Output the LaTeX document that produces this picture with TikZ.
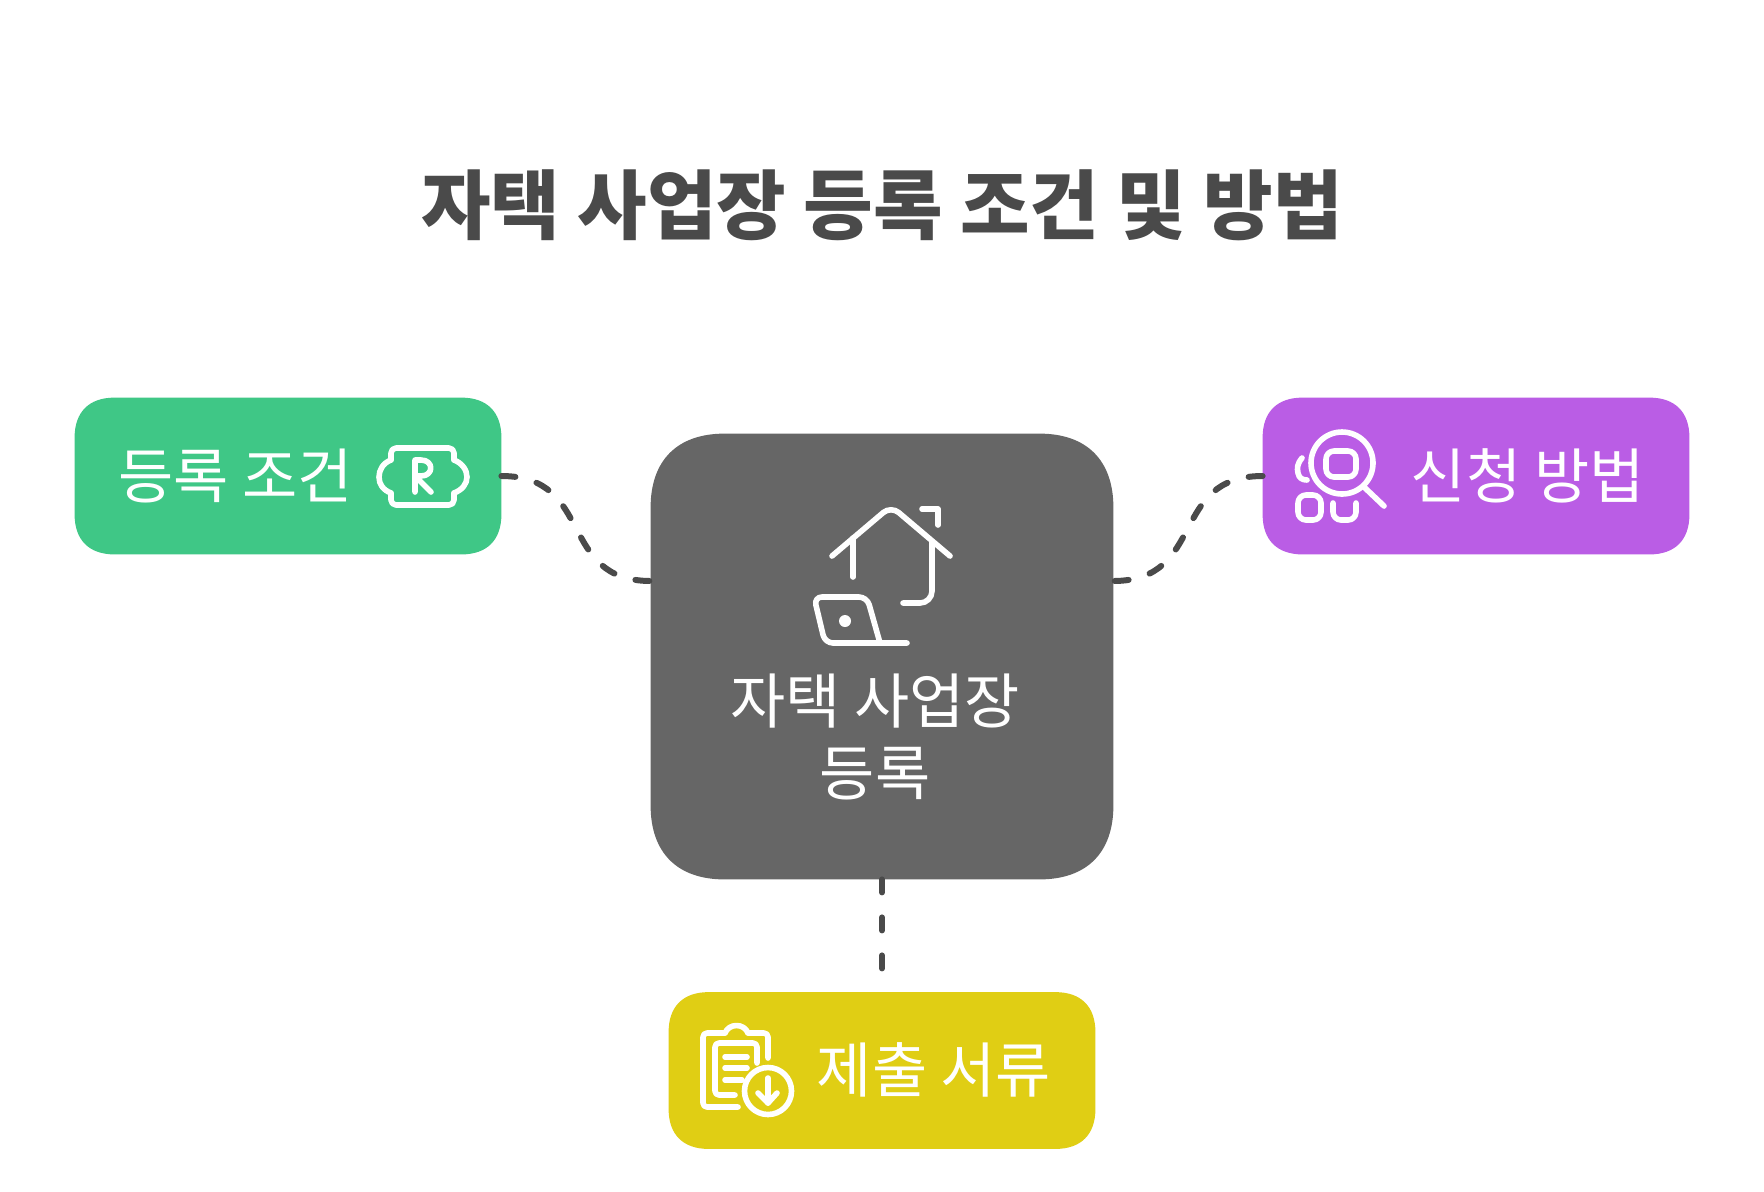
\documentclass[tikz,border=0pt]{standalone}
\usepackage{fontspec}
\setmainfont{Noto Sans CJK KR}
\usetikzlibrary{calc}
\definecolor{boxgreen}{RGB}{63,199,134}
\definecolor{boxpurple}{RGB}{186,93,229}
\definecolor{boxyellow}{RGB}{224,206,20}
\definecolor{boxgray}{RGB}{102,102,102}
\definecolor{inkgray}{RGB}{74,74,74}
\tikzset{
    sidebox/.style={minimum width=213pt,minimum height=78pt,inner sep=0pt},
    mainbox/.style={minimum width=231pt,minimum height=222.5pt,inner sep=0pt},
    boxlabel/.style={white,font=\fontsize{30}{30}\selectfont,inner sep=0pt},
    titlelabel/.style={inkgray,font=\fontsize{37.8}{38}\selectfont\bfseries,inner sep=0pt},
    iconline/.style={white,line width=2.8pt,line cap=round,line join=round},
    linkline/.style={inkgray,line width=3pt,line cap=round,dash pattern=on 7pt off 11pt},
    droplink/.style={linkline,dash pattern=on 6.5pt off 12.5pt}
}
% box fill with soft corners, over the anchors of a node
\newcommand{\softbox}[3]{
    \fill[#2] ($(#1.north west)+(#3,0)$)
        -- ($(#1.north east)+(-#3,0)$) .. controls ($(#1.north east)+(-0.36*#3,0)$) and ($(#1.north east)+(0,0.36*#3)$) .. ($(#1.north east)+(0,#3)$)
        -- ($(#1.south east)+(0,-#3)$) .. controls ($(#1.south east)+(0,-0.36*#3)$) and ($(#1.south east)+(-0.36*#3,0)$) .. ($(#1.south east)+(-#3,0)$)
        -- ($(#1.south west)+(#3,0)$) .. controls ($(#1.south west)+(0.36*#3,0)$) and ($(#1.south west)+(0,-0.36*#3)$) .. ($(#1.south west)+(0,-#3)$)
        -- ($(#1.north west)+(0,#3)$) .. controls ($(#1.north west)+(0,0.36*#3)$) and ($(#1.north west)+(0.36*#3,0)$) .. cycle;
}

\begin{document}
\begin{tikzpicture}[x=0.5pt,y=-0.5pt]
    \useasboundingbox (0,0) rectangle (1764,1191);
    \fill[white] (0,0) rectangle (1764,1191);

    % Title
    \node[titlelabel] (title) at (882,205) {자택 사업장 등록 조건 및 방법};

    % Boxes
    \node[sidebox] (cond) at (288,476) {};
    \node[sidebox] (how) at (1476,476) {};
    \node[sidebox] (docs) at (882,1070.5) {};
    \node[mainbox] (main) at (882,656.5) {};
    \softbox{cond}{boxgreen}{40}
    \softbox{how}{boxpurple}{40}
    \softbox{docs}{boxyellow}{40}
    \softbox{main}{boxgray}{74}

    % Box texts
    \node[boxlabel] (condtext) at (235.5,476) {등록 조건};
    \node[boxlabel] (howtext) at (1528,476) {신청 방법};
    \node[boxlabel] (docstext) at (934,1070) {제출 서류};
    \node[boxlabel] (maintext) at (875,701) {자택 사업장};
    \node[boxlabel] (maintextb) at (875,774) {등록};

    % Links
    \coordinate (mainleft) at (651,581);
    \coordinate (mainright) at (1113,581);
    \draw[linkline] (cond.east) .. controls +(94,0) and ($(mainleft)+(-94,0)$) .. (mainleft);
    \draw[linkline] (how.west) .. controls +(-94,0) and ($(mainright)+(94,0)$) .. (mainright);
    \draw[droplink] (main.south) -- (docs.north);

    % House and laptop
    \draw[iconline,rounded corners=5pt] (832,556) -- (891,506) -- (950,556);
    \draw[iconline] (922,509) -- (938,509) -- (938,525);
    \draw[iconline] (853,538) -- (853,577);
    \draw[iconline,rounded corners=6pt] (932,542) -- (932,603) -- (903,603);
    \draw[iconline,rounded corners=4pt] (880,643) -- (867,597) -- (814,597) -- (825,643) -- (907,643);
    \fill[white] (845,621) circle[radius=3pt];

    % Ticket with R
    \draw[iconline,rounded corners=2.5pt] (391,460) -- (391,448) -- (454,448) -- (454,460);
    \draw[iconline,rounded corners=2.5pt] (391,493) -- (391,505) -- (454,505) -- (454,493);
    \draw[iconline] (391,460) .. controls (383,463) and (379,470) .. (379,477) .. controls (379,484) and (383,490) .. (391,493);
    \draw[iconline] (454,460) .. controls (462,463) and (467,470) .. (467,477) .. controls (467,484) and (462,490) .. (454,493);
    \draw[iconline] (415,492) -- (415,460) -- (421,460) .. controls (434,460) and (434,476) .. (421,476) -- (415,476);
    \draw[iconline] (419,480) -- (431,492);

    % Magnifier
    \draw[iconline] (1342,463) circle[radius=15.5pt];
    \draw[iconline,rounded corners=4pt] (1326,451) rectangle (1356,477);
    \draw[iconline] (1364,487) -- (1384,506);
    \draw[iconline] (1302,458) .. controls (1297,464) and (1297,468) .. (1298,473) .. controls (1299,478) and (1302,480) .. (1307,480);
    \draw[iconline,rounded corners=4pt] (1298,495) rectangle (1321,520);
    \draw[iconline,rounded corners=4pt] (1333,503) -- (1333,520) -- (1356,520) -- (1356,503);

    % Clipboard
    \draw[iconline,rounded corners=2pt] (738,1107) -- (703,1107) -- (703,1033) -- (725,1033);
    \draw[iconline] (725,1033) .. controls (729,1023) and (744,1023) .. (748,1033);
    \draw[iconline,rounded corners=2pt] (748,1033) -- (768,1033) -- (768,1058);
    \draw[iconline,rounded corners=2pt] (735,1095) -- (715,1095) -- (715,1043) -- (757,1043) -- (757,1063);
    \draw[iconline] (725,1057) -- (747,1057);
    \draw[iconline] (725,1068) -- (747,1068);
    \draw[iconline] (725,1080) -- (742,1080);
    \draw[iconline] (768,1091) circle[radius=11.75pt];
    \draw[iconline] (768,1078) -- (768,1103);
    \draw[iconline] (758,1093) -- (768,1103) -- (777,1093);
\end{tikzpicture}
\end{document}
